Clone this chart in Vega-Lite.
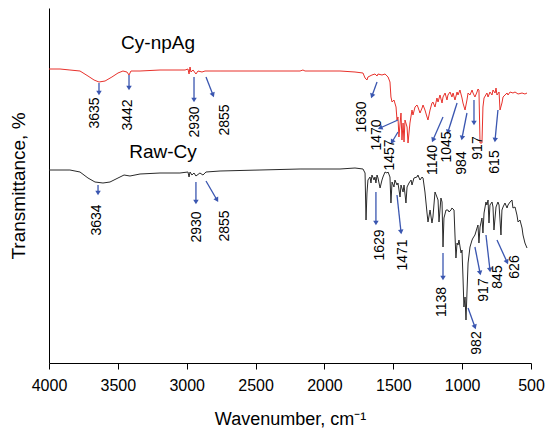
{
  "$schema": "https://vega.github.io/schema/vega-lite/v6.json",
  "width": 482,
  "height": 355,
  "autosize": "none",
  "padding": {"left": 49, "top": 8, "right": 15, "bottom": 66},
  "background": "white",
  "config": {"view": {"stroke": null}, "font": "Liberation Sans"},
  "datasets": {
    "spectra": [
      {"s":"Cy-npAg","w":4000,"t":294},{"s":"Cy-npAg","w":3920,"t":294},{"s":"Cy-npAg","w":3848,"t":293},{"s":"Cy-npAg","w":3775,"t":292},{"s":"Cy-npAg","w":3717,"t":287},{"s":"Cy-npAg","w":3673,"t":283},{"s":"Cy-npAg","w":3637,"t":281},{"s":"Cy-npAg","w":3593,"t":282},{"s":"Cy-npAg","w":3543,"t":286},{"s":"Cy-npAg","w":3499,"t":290},{"s":"Cy-npAg","w":3463,"t":292},{"s":"Cy-npAg","w":3434,"t":291},{"s":"Cy-npAg","w":3419,"t":288},{"s":"Cy-npAg","w":3405,"t":292},{"s":"Cy-npAg","w":3339,"t":292},{"s":"Cy-npAg","w":3194,"t":293},{"s":"Cy-npAg","w":3012,"t":293},{"s":"Cy-npAg","w":2991,"t":294},{"s":"Cy-npAg","w":2983,"t":289},{"s":"Cy-npAg","w":2976,"t":296},{"s":"Cy-npAg","w":2969,"t":291},{"s":"Cy-npAg","w":2954,"t":293},{"s":"Cy-npAg","w":2933,"t":289},{"s":"Cy-npAg","w":2918,"t":292},{"s":"Cy-npAg","w":2889,"t":291},{"s":"Cy-npAg","w":2867,"t":292},{"s":"Cy-npAg","w":2758,"t":292},{"s":"Cy-npAg","w":2468,"t":292},{"s":"Cy-npAg","w":2177,"t":292},{"s":"Cy-npAg","w":2156,"t":293},{"s":"Cy-npAg","w":2141,"t":292},{"s":"Cy-npAg","w":1887,"t":292},{"s":"Cy-npAg","w":1778,"t":291},
      {"s":"Cy-npAg","w":1720,"t":290},{"s":"Cy-npAg","w":1705,"t":285},{"s":"Cy-npAg","w":1691,"t":283},{"s":"Cy-npAg","w":1684,"t":286},{"s":"Cy-npAg","w":1655,"t":288},{"s":"Cy-npAg","w":1633,"t":289},{"s":"Cy-npAg","w":1618,"t":287},{"s":"Cy-npAg","w":1611,"t":289},{"s":"Cy-npAg","w":1582,"t":288},{"s":"Cy-npAg","w":1560,"t":289},{"s":"Cy-npAg","w":1538,"t":286},{"s":"Cy-npAg","w":1524,"t":281},{"s":"Cy-npAg","w":1517,"t":266},{"s":"Cy-npAg","w":1509,"t":261},{"s":"Cy-npAg","w":1495,"t":263},{"s":"Cy-npAg","w":1480,"t":256},{"s":"Cy-npAg","w":1473,"t":243},{"s":"Cy-npAg","w":1466,"t":246},{"s":"Cy-npAg","w":1459,"t":226},{"s":"Cy-npAg","w":1444,"t":250},{"s":"Cy-npAg","w":1437,"t":223},{"s":"Cy-npAg","w":1429,"t":240},{"s":"Cy-npAg","w":1422,"t":221},{"s":"Cy-npAg","w":1415,"t":243},{"s":"Cy-npAg","w":1400,"t":236},{"s":"Cy-npAg","w":1393,"t":220},{"s":"Cy-npAg","w":1379,"t":240},{"s":"Cy-npAg","w":1364,"t":253},{"s":"Cy-npAg","w":1357,"t":248},{"s":"Cy-npAg","w":1342,"t":256},{"s":"Cy-npAg","w":1328,"t":258},{"s":"Cy-npAg","w":1321,"t":256},{"s":"Cy-npAg","w":1306,"t":250},{"s":"Cy-npAg","w":1291,"t":255},{"s":"Cy-npAg","w":1284,"t":258},{"s":"Cy-npAg","w":1270,"t":253},{"s":"Cy-npAg","w":1255,"t":246},{"s":"Cy-npAg","w":1248,"t":243},{"s":"Cy-npAg","w":1233,"t":253},{"s":"Cy-npAg","w":1219,"t":260},{"s":"Cy-npAg","w":1212,"t":261},{"s":"Cy-npAg","w":1197,"t":256},{"s":"Cy-npAg","w":1183,"t":265},{"s":"Cy-npAg","w":1175,"t":261},{"s":"Cy-npAg","w":1161,"t":268},{"s":"Cy-npAg","w":1146,"t":260},{"s":"Cy-npAg","w":1139,"t":266},{"s":"Cy-npAg","w":1124,"t":270},{"s":"Cy-npAg","w":1110,"t":263},{"s":"Cy-npAg","w":1103,"t":268},{"s":"Cy-npAg","w":1088,"t":271},{"s":"Cy-npAg","w":1074,"t":266},{"s":"Cy-npAg","w":1066,"t":270},{"s":"Cy-npAg","w":1052,"t":263},{"s":"Cy-npAg","w":1037,"t":271},{"s":"Cy-npAg","w":1030,"t":268},{"s":"Cy-npAg","w":1016,"t":273},{"s":"Cy-npAg","w":1001,"t":265},{"s":"Cy-npAg","w":994,"t":260},{"s":"Cy-npAg","w":979,"t":253},{"s":"Cy-npAg","w":965,"t":263},{"s":"Cy-npAg","w":957,"t":270},{"s":"Cy-npAg","w":943,"t":268},{"s":"Cy-npAg","w":928,"t":273},{"s":"Cy-npAg","w":921,"t":270},{"s":"Cy-npAg","w":907,"t":266},{"s":"Cy-npAg","w":892,"t":271},{"s":"Cy-npAg","w":885,"t":274},{"s":"Cy-npAg","w":878,"t":273},{"s":"Cy-npAg","w":870,"t":220},{"s":"Cy-npAg","w":856,"t":220},{"s":"Cy-npAg","w":849,"t":256},{"s":"Cy-npAg","w":841,"t":265},{"s":"Cy-npAg","w":820,"t":270},{"s":"Cy-npAg","w":812,"t":266},{"s":"Cy-npAg","w":798,"t":271},{"s":"Cy-npAg","w":783,"t":268},{"s":"Cy-npAg","w":776,"t":273},{"s":"Cy-npAg","w":761,"t":270},{"s":"Cy-npAg","w":754,"t":275},{"s":"Cy-npAg","w":747,"t":268},{"s":"Cy-npAg","w":732,"t":271},{"s":"Cy-npAg","w":725,"t":253},{"s":"Cy-npAg","w":711,"t":260},{"s":"Cy-npAg","w":703,"t":266},{"s":"Cy-npAg","w":689,"t":268},{"s":"Cy-npAg","w":674,"t":270},{"s":"Cy-npAg","w":667,"t":268},{"s":"Cy-npAg","w":652,"t":271},{"s":"Cy-npAg","w":631,"t":270},{"s":"Cy-npAg","w":616,"t":271},{"s":"Cy-npAg","w":594,"t":269},{"s":"Cy-npAg","w":565,"t":270},{"s":"Cy-npAg","w":544,"t":269},{"s":"Cy-npAg","w":529,"t":270},
      {"s":"Raw-Cy","w":4000,"t":193},{"s":"Raw-Cy","w":3920,"t":193},{"s":"Raw-Cy","w":3848,"t":193},{"s":"Raw-Cy","w":3775,"t":191},{"s":"Raw-Cy","w":3717,"t":185},{"s":"Raw-Cy","w":3666,"t":181},{"s":"Raw-Cy","w":3608,"t":180},{"s":"Raw-Cy","w":3557,"t":181},{"s":"Raw-Cy","w":3499,"t":185},{"s":"Raw-Cy","w":3455,"t":188},{"s":"Raw-Cy","w":3412,"t":187},{"s":"Raw-Cy","w":3339,"t":189},{"s":"Raw-Cy","w":3194,"t":190},{"s":"Raw-Cy","w":3049,"t":190},{"s":"Raw-Cy","w":2991,"t":191},{"s":"Raw-Cy","w":2983,"t":186},{"s":"Raw-Cy","w":2976,"t":191},{"s":"Raw-Cy","w":2962,"t":188},{"s":"Raw-Cy","w":2947,"t":190},{"s":"Raw-Cy","w":2933,"t":187},{"s":"Raw-Cy","w":2904,"t":190},{"s":"Raw-Cy","w":2882,"t":188},{"s":"Raw-Cy","w":2860,"t":191},{"s":"Raw-Cy","w":2758,"t":192},{"s":"Raw-Cy","w":2468,"t":193},{"s":"Raw-Cy","w":2177,"t":194},{"s":"Raw-Cy","w":1887,"t":194},{"s":"Raw-Cy","w":1778,"t":195},
      {"s":"Raw-Cy","w":1720,"t":194},{"s":"Raw-Cy","w":1705,"t":190},{"s":"Raw-Cy","w":1698,"t":143},{"s":"Raw-Cy","w":1691,"t":170},{"s":"Raw-Cy","w":1684,"t":183},{"s":"Raw-Cy","w":1669,"t":186},{"s":"Raw-Cy","w":1662,"t":180},{"s":"Raw-Cy","w":1655,"t":188},{"s":"Raw-Cy","w":1640,"t":183},{"s":"Raw-Cy","w":1633,"t":186},{"s":"Raw-Cy","w":1626,"t":180},{"s":"Raw-Cy","w":1618,"t":188},{"s":"Raw-Cy","w":1611,"t":185},{"s":"Raw-Cy","w":1596,"t":175},{"s":"Raw-Cy","w":1582,"t":183},{"s":"Raw-Cy","w":1575,"t":186},{"s":"Raw-Cy","w":1560,"t":191},{"s":"Raw-Cy","w":1546,"t":190},{"s":"Raw-Cy","w":1538,"t":191},{"s":"Raw-Cy","w":1524,"t":186},{"s":"Raw-Cy","w":1517,"t":160},{"s":"Raw-Cy","w":1509,"t":181},{"s":"Raw-Cy","w":1495,"t":176},{"s":"Raw-Cy","w":1488,"t":183},{"s":"Raw-Cy","w":1473,"t":178},{"s":"Raw-Cy","w":1466,"t":180},{"s":"Raw-Cy","w":1451,"t":166},{"s":"Raw-Cy","w":1444,"t":178},{"s":"Raw-Cy","w":1429,"t":171},{"s":"Raw-Cy","w":1422,"t":178},{"s":"Raw-Cy","w":1408,"t":160},{"s":"Raw-Cy","w":1400,"t":176},{"s":"Raw-Cy","w":1386,"t":180},{"s":"Raw-Cy","w":1371,"t":183},{"s":"Raw-Cy","w":1364,"t":178},{"s":"Raw-Cy","w":1350,"t":185},{"s":"Raw-Cy","w":1328,"t":186},{"s":"Raw-Cy","w":1321,"t":188},{"s":"Raw-Cy","w":1306,"t":183},{"s":"Raw-Cy","w":1291,"t":186},{"s":"Raw-Cy","w":1284,"t":185},{"s":"Raw-Cy","w":1270,"t":171},{"s":"Raw-Cy","w":1255,"t":150},{"s":"Raw-Cy","w":1248,"t":141},{"s":"Raw-Cy","w":1233,"t":153},{"s":"Raw-Cy","w":1219,"t":140},{"s":"Raw-Cy","w":1212,"t":146},{"s":"Raw-Cy","w":1197,"t":171},{"s":"Raw-Cy","w":1183,"t":166},{"s":"Raw-Cy","w":1175,"t":163},{"s":"Raw-Cy","w":1168,"t":141},{"s":"Raw-Cy","w":1154,"t":165},{"s":"Raw-Cy","w":1146,"t":161},{"s":"Raw-Cy","w":1139,"t":116},{"s":"Raw-Cy","w":1132,"t":145},{"s":"Raw-Cy","w":1117,"t":153},{"s":"Raw-Cy","w":1103,"t":153},{"s":"Raw-Cy","w":1095,"t":151},{"s":"Raw-Cy","w":1081,"t":153},{"s":"Raw-Cy","w":1074,"t":155},{"s":"Raw-Cy","w":1059,"t":153},{"s":"Raw-Cy","w":1052,"t":128},{"s":"Raw-Cy","w":1045,"t":105},{"s":"Raw-Cy","w":1037,"t":120},{"s":"Raw-Cy","w":1030,"t":118},{"s":"Raw-Cy","w":1023,"t":123},{"s":"Raw-Cy","w":1008,"t":110},{"s":"Raw-Cy","w":1001,"t":113},{"s":"Raw-Cy","w":994,"t":86},{"s":"Raw-Cy","w":987,"t":56},{"s":"Raw-Cy","w":979,"t":66},{"s":"Raw-Cy","w":972,"t":43},{"s":"Raw-Cy","w":965,"t":70},{"s":"Raw-Cy","w":957,"t":100},{"s":"Raw-Cy","w":943,"t":116},{"s":"Raw-Cy","w":928,"t":123},{"s":"Raw-Cy","w":921,"t":125},{"s":"Raw-Cy","w":907,"t":128},{"s":"Raw-Cy","w":892,"t":135},{"s":"Raw-Cy","w":885,"t":138},{"s":"Raw-Cy","w":878,"t":120},{"s":"Raw-Cy","w":870,"t":136},{"s":"Raw-Cy","w":856,"t":145},{"s":"Raw-Cy","w":849,"t":130},{"s":"Raw-Cy","w":841,"t":150},{"s":"Raw-Cy","w":827,"t":161},{"s":"Raw-Cy","w":820,"t":158},{"s":"Raw-Cy","w":812,"t":163},{"s":"Raw-Cy","w":805,"t":140},{"s":"Raw-Cy","w":798,"t":158},{"s":"Raw-Cy","w":783,"t":161},{"s":"Raw-Cy","w":776,"t":156},{"s":"Raw-Cy","w":769,"t":133},{"s":"Raw-Cy","w":754,"t":156},{"s":"Raw-Cy","w":740,"t":161},{"s":"Raw-Cy","w":732,"t":158},{"s":"Raw-Cy","w":718,"t":128},{"s":"Raw-Cy","w":711,"t":153},{"s":"Raw-Cy","w":703,"t":156},{"s":"Raw-Cy","w":689,"t":160},{"s":"Raw-Cy","w":674,"t":155},{"s":"Raw-Cy","w":667,"t":158},{"s":"Raw-Cy","w":652,"t":161},{"s":"Raw-Cy","w":638,"t":163},{"s":"Raw-Cy","w":631,"t":155},{"s":"Raw-Cy","w":616,"t":156},{"s":"Raw-Cy","w":602,"t":148},{"s":"Raw-Cy","w":594,"t":141},{"s":"Raw-Cy","w":580,"t":143},{"s":"Raw-Cy","w":565,"t":135},{"s":"Raw-Cy","w":558,"t":128},{"s":"Raw-Cy","w":544,"t":120},{"s":"Raw-Cy","w":529,"t":115}
    ],
    "arrows": [
      {"w1":3637,"t1":280,"w2":3637,"t2":270},
      {"w1":3419,"t1":288,"w2":3419,"t2":275},
      {"w1":2947,"t1":286,"w2":2947,"t2":263},
      {"w1":2860,"t1":286,"w2":2809,"t2":268},
      {"w1":1618,"t1":281,"w2":1655,"t2":267},
      {"w1":1466,"t1":243,"w2":1596,"t2":235},
      {"w1":1466,"t1":231,"w2":1509,"t2":221},
      {"w1":1139,"t1":246,"w2":1212,"t2":223},
      {"w1":1037,"t1":260,"w2":1103,"t2":231},
      {"w1":965,"t1":250,"w2":1001,"t2":225},
      {"w1":914,"t1":263,"w2":914,"t2":240},
      {"w1":740,"t1":253,"w2":761,"t2":223},
      {"w1":3644,"t1":178,"w2":3644,"t2":170},
      {"w1":2933,"t1":181,"w2":2933,"t2":161},
      {"w1":2860,"t1":182,"w2":2780,"t2":163},
      {"w1":1626,"t1":171,"w2":1626,"t2":140},
      {"w1":1473,"t1":168,"w2":1444,"t2":131},
      {"w1":1139,"t1":110,"w2":1139,"t2":85},
      {"w1":957,"t1":55,"w2":907,"t2":36},
      {"w1":907,"t1":116,"w2":870,"t2":90},
      {"w1":827,"t1":128,"w2":798,"t2":93},
      {"w1":747,"t1":123,"w2":674,"t2":101}
    ],
    "peaks": [
      {"label":"3635","w":3666,"t":250},
      {"label":"3442","w":3426,"t":248},
      {"label":"2930","w":2940,"t":241},
      {"label":"2855","w":2722,"t":243},
      {"label":"1630","w":1727,"t":246},
      {"label":"1470","w":1618,"t":228},
      {"label":"1457","w":1524,"t":208},
      {"label":"1140","w":1212,"t":203},
      {"label":"1045","w":1110,"t":216},
      {"label":"984","w":1001,"t":200},
      {"label":"917","w":885,"t":215},
      {"label":"615","w":761,"t":201},
      {"label":"3634","w":3651,"t":143},
      {"label":"2930","w":2925,"t":136},
      {"label":"2855","w":2722,"t":137},
      {"label":"1629","w":1596,"t":118},
      {"label":"1471","w":1429,"t":108},
      {"label":"1138","w":1146,"t":61},
      {"label":"982","w":892,"t":20},
      {"label":"917","w":841,"t":73},
      {"label":"845","w":740,"t":86},
      {"label":"626","w":616,"t":96}
    ],
    "names": [
      {"label":"Cy-npAg","w":3208,"t":320},
      {"label":"Raw-Cy","w":3172,"t":211}
    ]
  },
  "layer": [
    {
      "data": {"name": "spectra"},
      "mark": {"type": "line", "strokeWidth": 1, "interpolate": "linear"},
      "encoding": {
        "x": {"field": "w", "type": "quantitative", "title": "Wavenumber, cm⁻¹",
          "scale": {"domain": [500, 4000], "reverse": true, "nice": false, "zero": false},
          "axis": {"values": [4000,3750,3500,3250,3000,2750,2500,2250,2000,1750,1500,1250,1000,750,500],
            "labelExpr": "datum.value % 500 === 0 ? datum.label : ''", "format": "d",
            "grid": false, "domainColor": "#000", "tickColor": "#000", "tickSize": 6, "labelColor": "#000",
            "labelFontSize": 16, "labelPadding": 8, "titleFontSize": 18, "titleFontWeight": "normal", "titleColor": "#000", "titlePadding": 17, "labelFlush": false, "labelOverlap": false}},
        "y": {"field": "t", "type": "quantitative", "title": "Transmittance, %",
          "scale": {"domain": [0, 355], "nice": false, "zero": false},
          "axis": {"ticks": false, "labels": false, "grid": false, "domainColor": "#000",
            "titleFontSize": 19, "titleFontWeight": "normal", "titleColor": "#000", "titlePadding": 21}},
        "color": {"field": "s", "type": "nominal", "scale": {"domain": ["Cy-npAg", "Raw-Cy"], "range": ["#e8312b", "#2a2a2a"]}, "legend": null}
      }
    },
    {
      "data": {"name": "arrows"},
      "mark": {"type": "rule", "color": "#3a56b0", "strokeWidth": 1.3},
      "encoding": {
        "x": {"field": "w1", "type": "quantitative", "title": "Wavenumber, cm⁻¹"},
        "y": {"field": "t1", "type": "quantitative", "title": "Transmittance, %"},
        "x2": {"field": "w2"},
        "y2": {"field": "t2"}
      }
    },
    {
      "data": {"name": "arrows"},
      "transform": [{"calculate": "atan2((datum.w2 - datum.w1) * 482 / 3500, datum.t1 - datum.t2) * 180 / PI", "as": "ang"}],
      "mark": {"type": "point", "shape": "triangle-down", "filled": true, "color": "#3a56b0", "size": 30, "opacity": 1},
      "encoding": {
        "x": {"field": "w2", "type": "quantitative", "title": "Wavenumber, cm⁻¹"},
        "y": {"field": "t2", "type": "quantitative", "title": "Transmittance, %"},
        "angle": {"field": "ang", "type": "quantitative", "scale": null}
      }
    },
    {
      "data": {"name": "peaks"},
      "mark": {"type": "text", "angle": 270, "fontSize": 14, "color": "#000", "align": "center", "baseline": "middle"},
      "encoding": {
        "x": {"field": "w", "type": "quantitative", "title": "Wavenumber, cm⁻¹"},
        "y": {"field": "t", "type": "quantitative", "title": "Transmittance, %"},
        "text": {"field": "label"}
      }
    },
    {
      "data": {"name": "names"},
      "mark": {"type": "text", "fontSize": 19, "color": "#000", "align": "center", "baseline": "middle"},
      "encoding": {
        "x": {"field": "w", "type": "quantitative", "title": "Wavenumber, cm⁻¹"},
        "y": {"field": "t", "type": "quantitative", "title": "Transmittance, %"},
        "text": {"field": "label"}
      }
    }
  ]
}
